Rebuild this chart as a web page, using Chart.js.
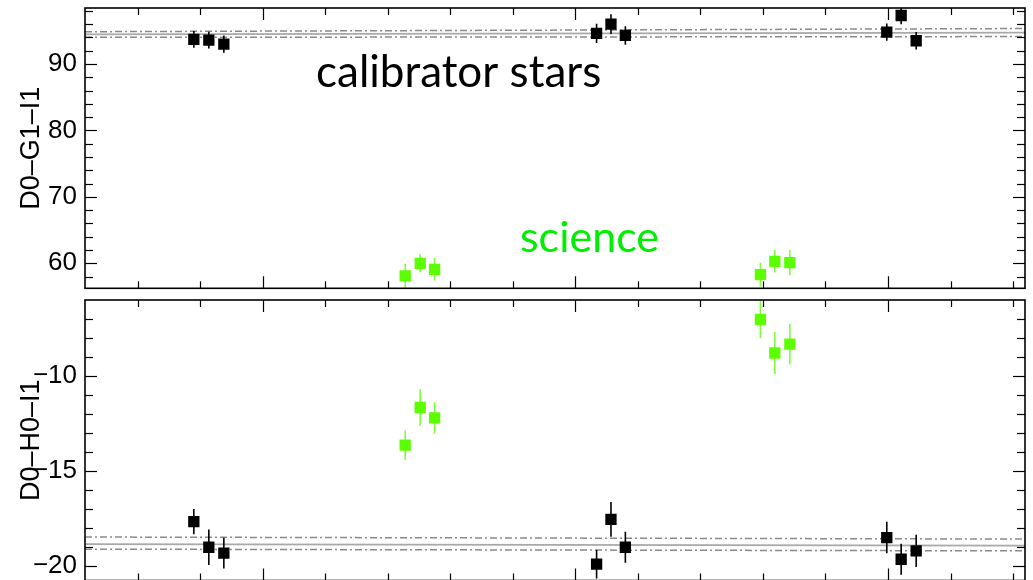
<!DOCTYPE html>
<html>
<head>
<meta charset="utf-8">
<script src="https://cdn.jsdelivr.net/npm/chart.js@4.4.1/dist/chart.umd.min.js"></script>
<style>
  html, body { margin: 0; padding: 0; background: #fff; width: 1033px; height: 580px; overflow: hidden; }
  #wrap { position: relative; width: 1033px; height: 580px; overflow: hidden; }
  canvas { position: absolute; left: 0; }
  #cpTop { top: 0; }
  #cpBot { top: 292px; }
</style>
</head>
<body>
<div id="wrap">
  <canvas id="cpTop" width="1033" height="300"></canvas>
  <canvas id="cpBot" width="1033" height="300"></canvas>
</div>
<script>
// Observation times (h) of the calibrator and science visits
const calTimes = [3.90, 4.14, 4.38, 10.34, 10.57, 10.80, 14.98, 15.21, 15.45];
const sciTimes = [7.28, 7.52, 7.75, 12.96, 13.19, 13.43];

// Closure phase D0–G1–I1 (deg) with 1σ errors
const calG1    = [93.7, 93.6, 93.0, 94.6, 96.0, 94.3, 94.8, 97.3, 93.5];
const calG1Err = [1.25, 1.25, 1.3, 1.45, 1.5, 1.4, 1.3, 1.3, 1.3];
const sciG1    = [58.1, 60.0, 59.1, 58.3, 60.3, 60.1];
const sciG1Err = [1.8, 1.35, 1.7, 1.8, 1.7, 1.9];

// Closure phase D0–H0–I1 (deg) with 1σ errors
const calH0    = [-17.67, -19.02, -19.33, -19.91, -17.55, -19.02, -18.51, -19.65, -19.21];
const calH0Err = [0.67, 0.93, 0.81, 0.75, 0.91, 0.82, 0.83, 0.82, 0.85];
const sciH0    = [-13.64, -11.66, -12.21, -7.02, -8.79, -8.32];
const sciH0Err = [0.77, 0.96, 0.83, 1.0, 1.1, 1.07];

// Calibrator trend and ±1σ envelope, at the start and end of the night
const bandTimes = [2.16, 17.19];
const g1Mean  = [94.47, 94.73];
const g1Upper = [94.86, 95.34];
const g1Lower = [94.01, 94.13];
const h0Mean  = [-18.85, -18.93];
const h0Upper = [-18.48, -18.59];
const h0Lower = [-19.12, -19.21];

// Axis ranges and tick labels
const timeRange = [2.16, 17.19];
const timeTicks = [3, 4, 5, 6, 7, 8, 9, 10, 11, 12, 13, 14, 15, 16, 17];
const g1Range = [56.24, 98.43];
const g1TickLabels = [60, 70, 80, 90];
const h0Range = [-20.77, -6.0];
const h0TickLabels = [-20, -15, -10];

const CAL_COLOR = '#000000';
const SCI_COLOR = '#5cff00';
const SCI_BAR   = '#7dff3a';

Chart.defaults.font.family = "'Liberation Sans', Arial, sans-serif";
Chart.defaults.color = '#000';

const pts = (xs, ys) => xs.map((x, i) => ({ x, y: ys[i] }));

// Vertical error bars, drawn just before the squares of their dataset
const errorBarPlugin = {
  id: 'errorBars',
  beforeDatasetDraw(chart, args) {
    const ds = chart.data.datasets[args.index];
    if (!ds.errors) return;
    const { ctx, scales: { x, y }, chartArea: a } = chart;
    ctx.save();
    ctx.beginPath();
    ctx.rect(a.left, a.top, a.right - a.left, a.bottom - a.top);
    ctx.clip();
    ctx.strokeStyle = ds.errorColor;
    ctx.lineWidth = 1.6;
    ds.data.forEach((p, i) => {
      const px = x.getPixelForValue(p.x);
      ctx.beginPath();
      ctx.moveTo(px, y.getPixelForValue(p.y + ds.errors[i]));
      ctx.lineTo(px, y.getPixelForValue(p.y - ds.errors[i]));
      ctx.stroke();
    });
    ctx.restore();
  }
};

// Box frame with inward ticks on all four sides
const framePlugin = {
  id: 'frame',
  afterDraw(chart, args, opts) {
    const { ctx, chartArea: a, scales: { x, y } } = chart;
    ctx.save();
    ctx.strokeStyle = '#000';
    ctx.lineWidth = 1.2;
    const seg = (x1, y1, x2, y2) => { ctx.beginPath(); ctx.moveTo(x1, y1); ctx.lineTo(x2, y2); ctx.stroke(); };
    timeTicks.forEach(v => {
      const px = Math.round(x.getPixelForValue(v)) + 0.5;
      const len = v % 5 === 0 ? 12 : 7;
      seg(px, a.top, px, a.top + len);
      seg(px, a.bottom, px, a.bottom - len);
    });
    for (let v = opts.minorStart; v <= opts.minorEnd + 1e-9; v += opts.minorStep) {
      const isMajor = opts.major.some(m => Math.abs(m - v) < 1e-6);
      const py = Math.round(y.getPixelForValue(v)) + 0.5;
      if (py < a.top + 1 || py > a.bottom - 1) continue;
      const len = isMajor ? 12 : 8;
      seg(a.left, py, a.left + len, py);
      seg(a.right, py, a.right - len, py);
    }
    ctx.lineWidth = 1.6;
    ctx.strokeRect(a.left, a.top, a.right - a.left, a.bottom - a.top);
    ctx.restore();
  }
};

// Free text labels on the upper panel
const labelPlugin = {
  id: 'labels',
  afterDraw(chart, args, opts) {
    if (!opts.items) return;
    const { ctx } = chart;
    ctx.save();
    opts.items.forEach(it => {
      ctx.font = it.font;
      ctx.fillStyle = it.color;
      ctx.textBaseline = 'alphabetic';
      ctx.fillText(it.text, it.x, it.y);
    });
    ctx.restore();
  }
};

function bandSets(mean, upper, lower) {
  const base = { type: 'line', pointRadius: 0, borderWidth: 1.5, fill: false, order: 5 };
  return [
    Object.assign({}, base, { data: pts(bandTimes, mean), borderColor: '#a8a8a8', borderWidth: 1.8 }),
    Object.assign({}, base, { data: pts(bandTimes, upper), borderColor: '#8a8a8a', borderDash: [7, 3, 2, 3] }),
    Object.assign({}, base, { data: pts(bandTimes, lower), borderColor: '#8a8a8a', borderDash: [7, 3, 2, 3] })
  ];
}

function panel(canvasId, cfg) {
  const fmt = v => String(v).replace('-', '\u2212');
  return new Chart(document.getElementById(canvasId), {
    type: 'scatter',
    data: {
      datasets: [
        { data: pts(calTimes, cfg.cal), errors: cfg.calErr, errorColor: CAL_COLOR,
          backgroundColor: CAL_COLOR, pointStyle: 'rect', pointRadius: 8, borderWidth: 0, order: 1 },
        { data: pts(sciTimes, cfg.sci), errors: cfg.sciErr, errorColor: SCI_BAR,
          backgroundColor: SCI_COLOR, pointStyle: 'rect', pointRadius: 8, borderWidth: 0, order: 0 },
        ...bandSets(cfg.mean, cfg.upper, cfg.lower)
      ]
    },
    options: {
      responsive: false,
      animation: false,
      events: [],
      layout: { padding: { top: cfg.padTop, bottom: cfg.padBottom, right: 8, left: 0 } },
      plugins: {
        legend: { display: false },
        tooltip: { enabled: false },
        frame: { minorStart: cfg.minorStart, minorEnd: cfg.minorEnd, minorStep: cfg.minorStep, major: cfg.ticks },
        labels: { items: cfg.labels }
      },
      scales: {
        x: {
          type: 'linear', min: timeRange[0], max: timeRange[1], display: false
        },
        y: {
          type: 'linear', min: cfg.range[0], max: cfg.range[1],
          afterFit(s) { s.width = 85; s.paddingTop = 0; s.paddingBottom = 0; },
          afterBuildTicks(s) { s.ticks = cfg.ticks.map(v => ({ value: v })); },
          ticks: { font: { size: 26 }, color: '#000', padding: 8, callback: v => fmt(v) },
          grid: { display: false, drawTicks: false },
          border: { display: false },
          title: { display: true, text: cfg.title, color: '#000', font: { size: 27 }, padding: { top: 15, bottom: 0 } }
        }
      }
    },
    plugins: [errorBarPlugin, framePlugin, labelPlugin]
  });
}

panel('cpTop', {
  cal: calG1, calErr: calG1Err, sci: sciG1, sciErr: sciG1Err,
  mean: g1Mean, upper: g1Upper, lower: g1Lower,
  range: g1Range, ticks: g1TickLabels, title: 'D0\u2013G1\u2013I1',
  minorStart: 58, minorEnd: 98, minorStep: 2,
  padTop: 8, padBottom: 11.7,
  labels: [
    { text: 'calibrator stars', x: 316, y: 87, font: "44px Lato", color: '#000000' },
    { text: 'science', x: 520, y: 252, font: "43px Lato", color: '#00ee00' }
  ]
});

panel('cpBot', {
  cal: calH0, calErr: calH0Err, sci: sciH0, sciErr: sciH0Err,
  mean: h0Mean, upper: h0Upper, lower: h0Lower,
  range: h0Range, ticks: h0TickLabels, title: 'D0\u2013H0\u2013I1',
  minorStart: -20, minorEnd: -6, minorStep: 1,
  padTop: 8, padBottom: 11.5,
  labels: null
});
</script>
</body>
</html>
